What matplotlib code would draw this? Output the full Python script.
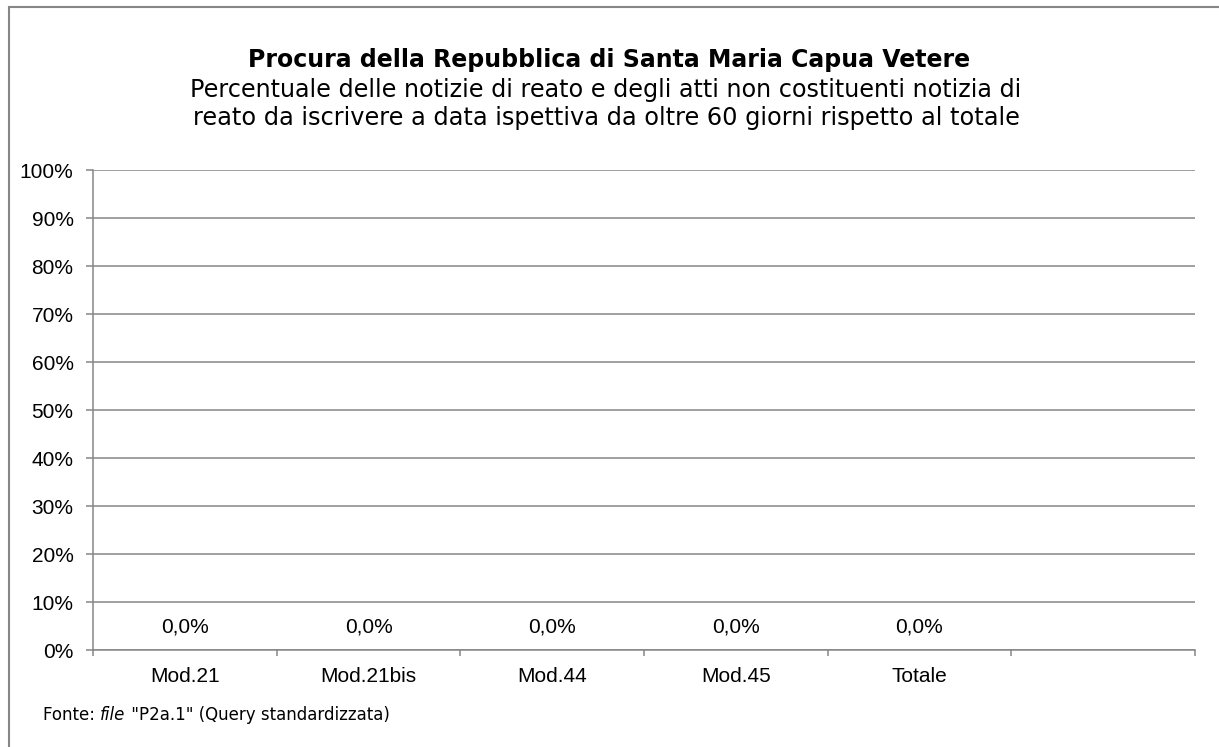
import matplotlib
matplotlib.use("Agg")
import matplotlib.pyplot as plt
from matplotlib.patches import Rectangle

# dati del grafico
categorie = ["Mod.21", "Mod.21bis", "Mod.44", "Mod.45", "Totale", ""]
valori = [0.0, 0.0, 0.0, 0.0, 0.0, None]
etichette = ["0,0%", "0,0%", "0,0%", "0,0%", "0,0%", ""]
y_ticks = [0, 10, 20, 30, 40, 50, 60, 70, 80, 90, 100]
y_labels = [f"{v}%" for v in y_ticks]

titolo = "Procura della Repubblica di Santa Maria Capua Vetere"
sottotitolo1 = "Percentuale delle notizie di reato e degli atti non costituenti notizia di"
sottotitolo2 = "reato da iscrivere a data ispettiva da oltre 60 giorni rispetto al totale"

grigio = "#868686"
W, H = 1219, 747

fig = plt.figure(figsize=(W / 100, H / 100), dpi=100)
ax = fig.add_axes([93 / W, 1 - 650 / H, (1195 - 93) / W, (650 - 170) / H])

x = list(range(len(categorie)))
alt = [v if v is not None else 0 for v in valori]
ax.bar(x, alt, width=0.6, color="#4F81BD")
for xi, lab in zip(x, etichette):
    if lab:
        ax.annotate(lab, (xi, 0), xytext=(0, 16.5), textcoords="offset points",
                    ha="center", va="center", fontsize=15, family="Liberation Sans")

ax.set_xlim(-0.5, len(categorie) - 0.5)
ax.set_ylim(0, 100)
ax.set_yticks(y_ticks)
ax.set_yticklabels(y_labels, fontsize=15, family="Liberation Sans")
ax.yaxis.grid(True, color=grigio, linewidth=1.1)
ax.set_axisbelow(True)

# tick principali ai bordi delle categorie, etichette al centro
ax.set_xticks([i - 0.5 for i in range(len(categorie) + 1)])
ax.set_xticklabels([])
ax.set_xticks(x, minor=True)
ax.set_xticklabels(categorie, minor=True, fontsize=15, family="Liberation Sans")
ax.tick_params(axis="x", which="minor", length=0, pad=12)
ax.tick_params(axis="x", which="major", length=4, color=grigio, width=1.1, direction="out")
ax.tick_params(axis="y", length=5, color=grigio, width=1.1, pad=9)

for s in ["top", "right"]:
    ax.spines[s].set_visible(False)
for s in ["left", "bottom"]:
    ax.spines[s].set_color(grigio)
    ax.spines[s].set_linewidth(1.1)

fig.canvas.draw()
r = fig.canvas.get_renderer()


def testo_largo(xc, yb, s, larghezza, **kw):
    t = fig.text(xc / W, 1 - yb / H, s, ha="center", va="baseline", fontsize=10, **kw)
    w = t.get_window_extent(r).width
    t.set_fontsize(10 * larghezza / w)
    return t


testo_largo(609, 67, titolo, 725, fontweight="bold", family="DejaVu Sans")
testo_largo(606, 97, sottotitolo1, 834, family="DejaVu Sans")
testo_largo(606, 125, sottotitolo2, 827, family="DejaVu Sans")

# nota a piè di pagina (con "file" in corsivo)
fs = 12
yb = 1 - 720 / H
t1 = fig.text(43 / W, yb, "Fonte: ", ha="left", va="baseline", fontsize=fs, family="DejaVu Sans")
bb = t1.get_window_extent(r)
t2 = fig.text(bb.x1 / W, yb, "file", ha="left", va="baseline", fontsize=fs,
              family="DejaVu Sans", style="italic")
bb2 = t2.get_window_extent(r)
fig.text(bb2.x1 / W, yb, ' "P2a.1" (Query standardizzata)', ha="left", va="baseline",
         fontsize=fs, family="DejaVu Sans")

fig.patches.append(Rectangle((8.5 / W, -0.1), 1.2, 1.1 - 6.5 / H, transform=fig.transFigure,
                             fill=False, edgecolor=grigio, linewidth=1.5))

fig.savefig("out.png", dpi=100)
